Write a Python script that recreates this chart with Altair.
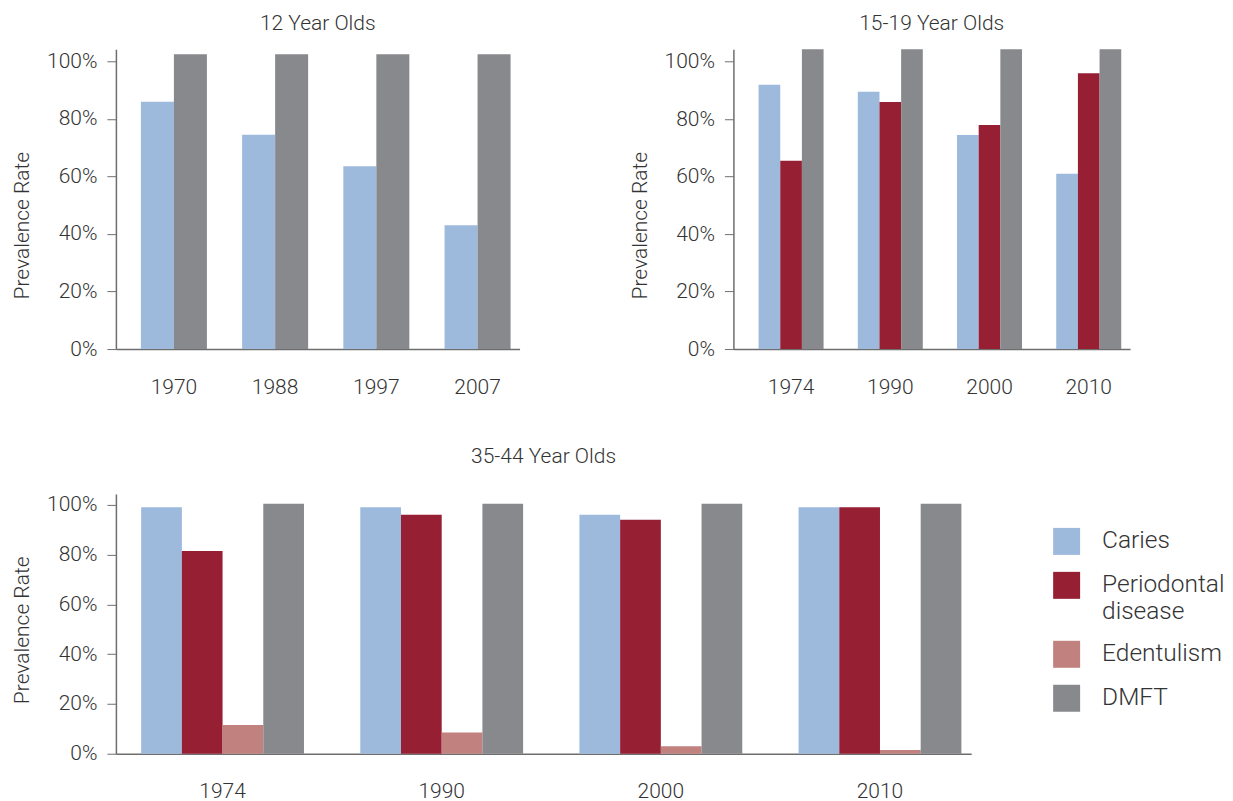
import altair as alt
import pandas as pd

# ---------------- data ----------------
series = ["Caries", "Periodontal disease", "Edentulism", "DMFT"]
colors = ["#9DB9DC", "#961F34", "#C0817F", "#88898D"]

years_12 = ["1970", "1988", "1997", "2007"]
caries_12 = [86, 74.5, 63.5, 43]
dmft_12 = [102.5, 102.5, 102.5, 102.5]

years_teen = ["1974", "1990", "2000", "2010"]
caries_teen = [92, 89.5, 74.5, 61]
perio_teen = [65.5, 86, 78, 96]
dmft_teen = [104.3, 104.3, 104.3, 104.3]

years_adult = ["1974", "1990", "2000", "2010"]
caries_adult = [99, 99, 96, 99]
perio_adult = [81.5, 96, 94, 99]
edent_adult = [11.5, 8.5, 3, 1.5]
dmft_adult = [100.5, 100.5, 100.5, 100.5]

y_ticks = [0, 20, 40, 60, 80, 100]

FONT = "Roboto"
WEIGHT = 300
TEXT = "#333333"
AXIS = "#6e6e6e"
FS = 21


def frame(years, cols):
    rows = []
    for name, vals in cols:
        for y, v in zip(years, vals):
            rows.append({"year": y, "series": name, "value": v})
    return pd.DataFrame(rows)


df12 = frame(years_12, [("Caries", caries_12), ("DMFT", dmft_12)])
dfteen = frame(years_teen, [("Caries", caries_teen), ("Periodontal disease", perio_teen), ("DMFT", dmft_teen)])
dfadult = frame(years_adult, [("Caries", caries_adult), ("Periodontal disease", perio_adult),
                              ("Edentulism", edent_adult), ("DMFT", dmft_adult)])


def panel(df, years, present, title, width, height, ymax, pi, po, align, title_offset, title_y, legend=None):
    return alt.Chart(df).mark_bar().encode(
        x=alt.X("year:N", sort=years,
                scale=alt.Scale(paddingInner=pi, paddingOuter=po, align=align),
                axis=alt.Axis(title=None, labelAngle=0, ticks=False, tickSize=0, labelPadding=27,
                              domainColor=AXIS, domainWidth=1.5)),
        xOffset=alt.XOffset("series:N", sort=present, scale=alt.Scale(paddingInner=0, paddingOuter=0)),
        y=alt.Y("value:Q", scale=alt.Scale(domain=[0, ymax], nice=False, zero=True),
                axis=alt.Axis(title="Prevalence Rate", values=y_ticks, labelExpr="datum.value + '%'",
                              grid=False, tickSize=9, labelPadding=10, titlePadding=14, titleY=title_y,
                              tickColor=AXIS, domainColor=AXIS, domainWidth=1.5)),
        color=alt.Color("series:N", scale=alt.Scale(domain=series, range=colors), legend=legend),
    ).properties(
        width=width, height=height,
        title=alt.TitleParams(title, fontSize=FS, font=FONT, fontWeight=WEIGHT, color=TEXT,
                              offset=title_offset, baseline="alphabetic", anchor="middle"),
    )


tl = panel(df12, years_12, ["Caries", "DMFT"], "12 Year Olds", 404, 300, 104.2,
           0.348, 0.168, 0.735, -2, 176)
tr = panel(dfteen, years_teen, ["Caries", "Periodontal disease", "DMFT"], "15-19 Year Olds", 397, 300, 104.3,
           0.345, 0.1715, 0.74, -2, 176)

legend = alt.Legend(title=None, orient="none", legendX=938, legendY=34, symbolType="square",
                    symbolSize=729, symbolStrokeWidth=0, symbolOpacity=1, labelFontSize=24.5,
                    labelFont=FONT, labelFontWeight=WEIGHT, labelColor=TEXT, labelOffset=22,
                    rowPadding=17, labelLimit=400, padding=0,
                    labelExpr="datum.label == 'Periodontal disease' ? ['Periodontal', 'disease'] : datum.label")

bottom = panel(dfadult, years_adult, series, "35-44 Year Olds", 856, 260, 104.4,
               0.257, 0.08, 0.72, 10, 136, legend=legend)

top = alt.hconcat(tl, tr, spacing=214, bounds="flush").resolve_scale(
    color="independent", x="independent", xOffset="independent", y="independent"
).resolve_legend(color="independent")

chart = alt.vconcat(top, bottom, spacing=48).resolve_legend(color="independent").resolve_scale(
    color="independent", x="independent", xOffset="independent", y="independent"
).properties(padding={"left": 3, "top": 5, "right": 0, "bottom": 0}).configure_view(stroke=None).configure_axis(
    labelFont=FONT, labelFontWeight=WEIGHT, labelFontSize=FS, labelColor=TEXT,
    titleFont=FONT, titleFontWeight=WEIGHT, titleFontSize=FS, titleColor=TEXT,
).configure_legend(labelFont=FONT)

chart.save("out.html", embed_options={"renderer": "svg", "actions": False})
